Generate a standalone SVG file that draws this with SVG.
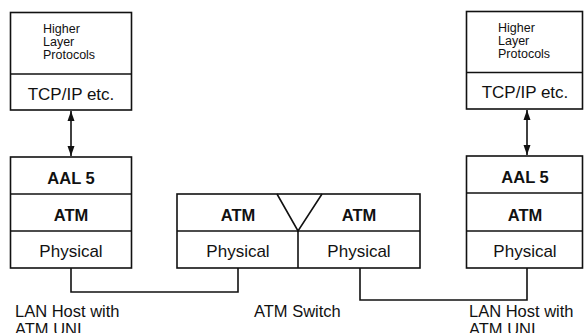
<svg xmlns="http://www.w3.org/2000/svg" width="584" height="333" viewBox="0 0 584 333">
<style>
.box{fill:#fff;stroke:#111;stroke-width:1.6}
.ln{fill:none;stroke:#111;stroke-width:1.6}
.t{font-family:"Liberation Sans",Arial,sans-serif;font-size:17px;fill:#111;text-anchor:middle}
.b{font-weight:bold;font-size:16.5px}
.s{font-family:"Liberation Sans",Arial,sans-serif;font-size:12.5px;fill:#111}
.lbl{font-family:"Liberation Sans",Arial,sans-serif;font-size:16.5px;fill:#111}
</style>
<defs>
<marker id="ah" viewBox="0 0 10 10" refX="10" refY="5" markerWidth="10" markerHeight="10" markerUnits="userSpaceOnUse" orient="auto-start-reverse">
<path d="M0,1.5 L10,5 L0,8.5 Z" fill="#111"/>
</marker>
</defs>
<rect width="584" height="333" fill="#fff"/>
<g id="left-upper">
<rect class="box" x="10.5" y="12.5" width="121" height="97.5"/>
<line class="ln" x1="10.5" y1="74" x2="131.5" y2="74"/>
<text class="s" x="43" y="33">Higher</text>
<text class="s" x="43" y="46">Layer</text>
<text class="s" x="43" y="59">Protocols</text>
<text class="t" x="71" y="100">TCP/IP etc.</text>
</g>
<g id="left-lower">
<rect class="box" x="10.5" y="157" width="121" height="111"/>
<line class="ln" x1="10.5" y1="194" x2="131.5" y2="194"/>
<line class="ln" x1="10.5" y1="231" x2="131.5" y2="231"/>
<text class="t b" x="71" y="184">AAL 5</text>
<text class="t b" x="71" y="221">ATM</text>
<text class="t" x="71" y="257">Physical</text>
</g>
<g id="switch">
<rect class="box" x="177" y="194" width="243" height="74"/>
<line class="ln" x1="177" y1="231" x2="420" y2="231"/>
<line class="ln" x1="298" y1="231" x2="298" y2="268"/>
<polyline class="ln" points="277,194 298,231 322,194"/>
<text class="t b" x="238" y="221">ATM</text>
<text class="t b" x="359" y="221">ATM</text>
<text class="t" x="238" y="257">Physical</text>
<text class="t" x="359" y="257">Physical</text>
</g>
<g id="right-upper">
<rect class="box" x="466.5" y="11.5" width="116" height="97.5"/>
<line class="ln" x1="466.5" y1="72.5" x2="582.5" y2="72.5"/>
<text class="s" x="498" y="32">Higher</text>
<text class="s" x="498" y="45">Layer</text>
<text class="s" x="498" y="58">Protocols</text>
<text class="t" x="525" y="98">TCP/IP etc.</text>
</g>
<g id="right-lower">
<rect class="box" x="466.5" y="156" width="116" height="112"/>
<line class="ln" x1="466.5" y1="193" x2="582.5" y2="193"/>
<line class="ln" x1="466.5" y1="231" x2="582.5" y2="231"/>
<text class="t b" x="525" y="183">AAL 5</text>
<text class="t b" x="525" y="221">ATM</text>
<text class="t" x="525" y="257">Physical</text>
</g>
<g id="connectors">
<line class="ln" x1="71" y1="111" x2="71" y2="156" marker-start="url(#ah)" marker-end="url(#ah)"/>
<line class="ln" x1="527" y1="110" x2="527" y2="155" marker-start="url(#ah)" marker-end="url(#ah)"/>
<polyline class="ln" points="71,268 71,292 238,292 238,268"/>
<polyline class="ln" points="360,268 360,300 527,300 527,268"/>
</g>
<g id="labels">
<text class="lbl" x="15" y="317">LAN Host with</text>
<text class="lbl" x="15" y="335">ATM UNI</text>
<text class="lbl" x="254" y="317">ATM Switch</text>
<text class="lbl" x="469" y="317">LAN Host with</text>
<text class="lbl" x="469" y="335">ATM UNI</text>
</g>
</svg>
